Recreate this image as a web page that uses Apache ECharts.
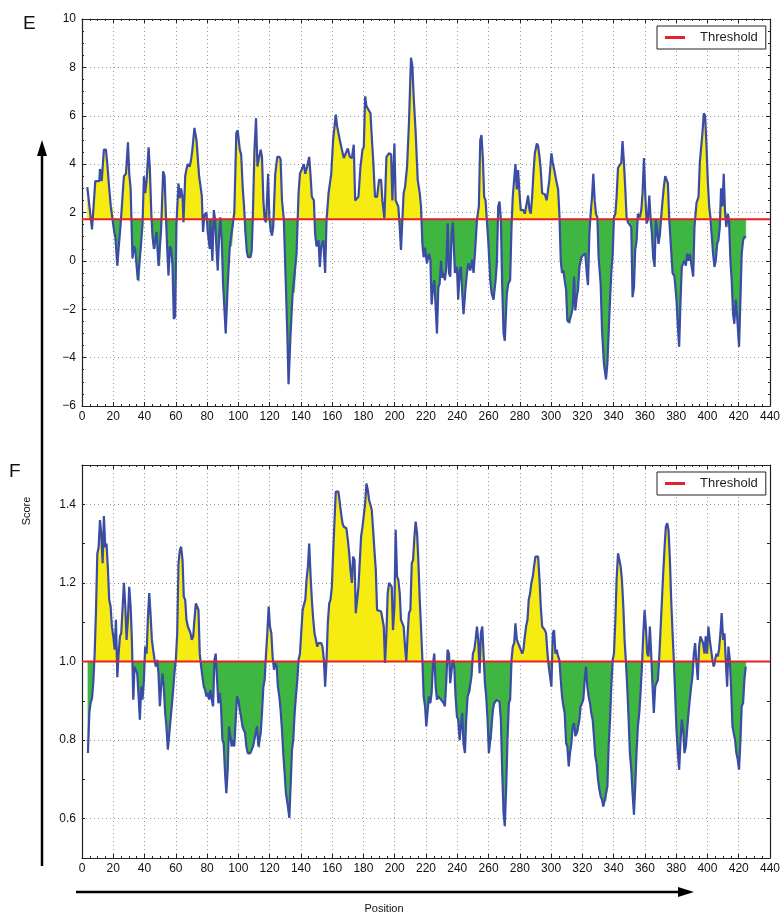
<!DOCTYPE html>
<html>
<head>
<meta charset="utf-8">
<script src="https://cdn.jsdelivr.net/npm/echarts@6/dist/echarts.min.js"></script>
<style>
html,body{margin:0;padding:0;background:#fff;}
#chart{width:783px;height:915px;}
</style>
</head>
<body>
<div id="chart"></div>
<script>
// ---------- DATA ----------
const eThreshold = 1.72;
const fThreshold = 1.0;
const xTicksMax = 440;

// Panel E: [position, score]
const ePoints = [
[3.4,3.05],[6.4,1.3],[8.5,3.3],[11.1,3.3],[11.5,3.8],[12.6,3.3],[14.0,4.6],[15.3,4.6],[16.2,4.0],[17.4,3.0],
[18.5,2.2],[19.6,2.2],[20.6,1.2],[21.3,1.0],[22.6,-0.2],[23.4,0.5],[24.7,1.5],[26.8,3.5],[28.1,3.6],[29.4,4.9],
[30.2,3.6],[31.1,3.0],[31.7,1.5],[32.3,0.1],[33.2,0.6],[34.0,0.5],[35.7,-0.8],[36.6,-0.85],[37.4,0.4],[38.7,1.5],
[39.6,3.5],[40.4,2.8],[41.3,3.3],[42.6,4.7],[43.4,3.8],[44.3,2.0],[45.1,1.0],[46.0,0.5],[46.8,0.5],[47.7,1.2],
[48.9,-0.2],[49.8,-0.2],[50.6,1.3],[51.9,3.7],[52.8,3.5],[53.6,2.0],[54.5,0.5],[55.3,-0.6],[56.2,0.6],[57.0,0.5],
[57.9,-0.2],[58.7,-2.4],[59.6,-2.3],[60.4,1.5],[61.7,3.2],[62.6,2.6],[63.4,3.0],[64.3,2.6],[64.9,1.6],[66.0,3.5],
[66.8,3.8],[67.7,4.0],[68.9,3.9],[69.8,4.2],[70.6,4.6],[71.9,5.5],[73.2,5.0],[74.0,5.0],[74.9,3.5],[76.6,2.7],
[77.4,1.2],[78.3,1.9],[79.6,2.0],[80.4,1.2],[81.7,0.5],[82.1,1.7],[83.4,0.0],[84.3,2.1],[85.1,1.7],[86.0,0.5],
[86.8,-0.4],[87.7,1.0],[88.5,1.8],[89.4,0.8],[90.2,-0.9],[91.9,-3.0],[93.2,-1.0],[94.5,0.6],[95.7,0.6],[97.4,2.0],
[98.7,5.3],[99.6,5.4],[100.9,4.6],[101.8,4.4],[102.8,3.0],[103.6,2.3],[104.5,1.2],[105.4,0.4],[106.2,0.15],[107.7,0.15],
[108.5,0.4],[109.2,1.7],[110.3,4.6],[111.3,5.9],[112.2,3.9],[113.0,4.2],[114.3,4.6],[115.1,4.3],[116.0,2.5],[116.8,1.7],
[117.7,1.6],[119.0,3.6],[119.8,1.8],[120.6,1.3],[121.5,1.05],[122.3,1.4],[123.6,3.6],[124.9,4.3],[126.2,4.3],[127.0,4.2],
[127.9,2.5],[129.1,1.7],[130.0,-0.25],[131.3,-3.0],[132.1,-5.1],[133.4,-3.0],[134.7,-1.35],[135.9,-1.3],[137.2,0.3],[138.5,2.8],
[139.4,3.6],[140.6,3.6],[141.9,4.0],[142.8,3.6],[144.0,3.9],[145.3,4.3],[146.2,3.5],[147.0,2.65],[148.3,2.5],[149.1,1.1],
[150.0,0.6],[151.3,0.85],[152.1,-0.25],[153.0,0.6],[154.3,0.85],[155.5,-0.5],[156.4,1.7],[157.7,2.8],[159.4,3.6],[160.6,5.0],
[162.3,6.05],[163.2,5.55],[164.9,5.0],[166.2,4.6],[167.4,4.25],[168.7,4.45],[170.0,4.65],[171.3,4.3],[172.6,4.25],[173.8,4.8],
[174.7,2.5],[175.5,2.5],[176.8,2.65],[178.1,3.9],[179.4,4.6],[180.2,4.7],[181.1,6.8],[181.9,6.4],[183.2,6.25],[184.5,6.1],
[185.3,5.15],[186.2,4.2],[187.4,2.65],[188.7,2.65],[190.0,3.35],[191.3,3.35],[192.1,2.5],[193.4,1.75],[194.7,4.3],[196.4,4.45],
[197.7,4.4],[198.5,2.5],[199.8,4.85],[200.6,2.5],[201.5,2.5],[202.3,2.25],[203.2,1.4],[204.0,0.45],[204.9,1.7],[205.7,2.8],
[206.6,3.05],[207.9,3.9],[209.1,5.7],[210.4,8.4],[211.3,8.05],[212.1,6.8],[213.4,5.3],[214.7,3.35],[216.0,2.8],[216.8,2.25],
[217.7,0.7],[218.5,0.15],[219.4,0.55],[220.6,-0.1],[221.9,0.3],[222.8,0.05],[223.6,-1.8],[224.5,-1.1],[225.3,-0.8],[226.2,-1.9],
[227.0,-3.0],[227.9,-1.1],[228.7,-0.95],[229.6,0.0],[230.4,-0.7],[231.3,-0.5],[232.1,-0.8],[233.0,-0.25],[233.9,1.55],[234.7,-0.5],
[235.5,-0.65],[236.4,1.1],[237.2,1.6],[238.5,-0.5],[239.8,-0.25],[240.6,-1.6],[241.5,-0.4],[242.3,-0.25],[243.2,-1.35],[244.0,-2.2],
[245.3,-1.1],[246.2,-0.5],[247.0,-0.1],[248.3,-0.4],[249.6,0.05],[250.4,-0.5],[251.3,0.3],[252.6,1.7],[253.8,2.25],[254.7,5.0],
[255.5,5.2],[256.4,4.2],[257.2,2.65],[258.1,2.5],[258.9,1.7],[259.8,0.85],[261.1,-0.8],[262.0,-1.35],[263.2,-1.6],[264.5,-0.8],
[265.3,-0.1],[266.2,2.25],[267.0,2.45],[267.9,1.7],[268.7,-0.95],[269.6,-3.0],[270.4,-3.3],[271.7,-1.35],[272.6,-0.95],[273.8,-0.8],
[274.7,1.4],[275.5,2.65],[276.4,2.65],[277.2,4.0],[278.1,2.95],[278.9,3.75],[279.8,2.8],[280.6,2.1],[281.5,2.15],[282.3,2.1],
[283.2,1.95],[284.0,1.95],[285.3,2.7],[286.2,2.1],[287.0,1.95],[287.9,2.65],[288.7,3.6],[289.6,4.45],[290.9,4.85],[291.7,4.75],
[292.6,4.3],[293.4,3.75],[294.3,2.8],[295.1,2.75],[296.0,2.75],[297.2,2.5],[298.1,2.45],[298.9,3.35],[300.2,4.45],[301.1,4.05],
[301.9,3.8],[303.2,3.35],[304.5,2.95],[305.3,1.95],[306.2,0.0],[307.0,-0.5],[307.9,-0.4],[308.7,-0.8],[309.6,-1.2],[310.4,-2.45],
[311.3,-2.55],[312.1,-2.6],[313.0,-2.2],[313.8,-1.95],[314.7,-0.65],[315.5,-2.05],[316.4,-1.5],[317.2,-1.2],[318.1,-0.25],[319.4,0.15],
[320.6,0.25],[321.9,0.3],[322.8,-0.5],[323.6,-1.0],[324.5,1.15],[325.3,1.95],[326.2,2.65],[327.0,3.6],[327.9,2.5],[328.7,1.95],
[329.6,1.8],[330.4,0.15],[331.7,-0.95],[332.6,-2.9],[333.8,-4.25],[335.1,-4.9],[336.0,-4.25],[336.8,-3.0],[337.7,-1.6],[338.5,-0.5],
[339.4,0.3],[340.2,1.8],[341.1,1.95],[341.9,2.65],[342.8,3.85],[344.0,3.85],[344.9,4.05],[345.7,4.95],[346.6,4.05],[347.4,3.05],
[348.3,1.8],[349.1,1.6],[350.0,1.65],[351.3,1.4],[352.1,-1.5],[353.0,-1.1],[353.8,0.45],[354.7,0.85],[355.5,1.95],[356.8,1.8],
[357.7,2.1],[358.5,2.8],[359.4,4.25],[360.2,2.8],[361.1,1.55],[361.9,1.7],[362.8,2.7],[363.6,1.8],[364.5,1.1],[365.3,0.15],
[366.2,-0.25],[367.0,1.7],[367.9,1.25],[368.7,0.7],[369.6,1.1],[370.4,1.8],[371.3,2.5],[372.1,3.05],[373.0,3.5],[373.8,3.5],
[374.7,3.2],[375.5,1.8],[376.4,0.85],[377.7,-0.5],[378.9,-0.65],[380.2,-1.6],[381.1,-2.75],[381.9,-3.55],[382.8,-1.6],[383.6,-0.25],
[384.5,-0.1],[385.3,0.0],[386.2,-0.2],[387.0,0.3],[387.9,0.0],[388.7,0.3],[389.6,-0.1],[390.9,-0.65],[391.7,1.4],[393.0,2.4],
[394.3,2.65],[395.1,4.05],[396.0,4.05],[396.8,5.3],[397.7,6.1],[398.5,6.0],[399.4,4.75],[400.2,3.35],[401.1,2.25],[401.9,1.8],
[402.8,1.75],[403.6,0.3],[404.5,-0.25],[405.3,0.0],[406.2,0.7],[407.0,0.85],[407.9,1.4],[408.7,3.0],[409.6,2.25],[410.4,3.6],
[411.3,1.95],[412.1,1.4],[413.0,1.95],[413.8,1.7],[414.7,0.0],[415.5,-0.8],[416.4,-2.2],[417.2,-2.6],[418.1,-1.6],[418.9,-2.2],
[420.2,-3.55],[421.1,-1.6],[421.9,0.3],[422.8,0.85],[423.6,1.0],[424.5,0.95]
];

// Panel F: [position, score]
const fPoints = [
[3.8,0.767],[4.7,0.87],[5.5,0.894],[6.4,0.907],[7.2,0.945],[8.1,1.02],[8.9,1.123],[9.8,1.275],[10.6,1.29],[11.5,1.36],
[12.3,1.326],[13.2,1.25],[14.0,1.37],[14.9,1.29],[15.7,1.3],[16.6,1.233],[17.4,1.157],[18.3,1.14],[19.1,1.09],[20.0,1.064],
[20.9,1.03],[21.7,1.106],[22.6,0.96],[23.4,1.02],[24.3,1.064],[25.1,1.072],[26.0,1.14],[26.8,1.2],[27.7,1.14],[28.5,1.055],
[29.4,1.11],[30.2,1.19],[31.1,1.14],[31.9,1.055],[32.8,0.903],[33.6,0.987],[34.5,0.983],[35.3,0.97],[36.2,0.911],[37.0,0.852],
[37.9,0.936],[38.7,0.903],[39.6,0.953],[40.4,1.038],[41.3,1.02],[42.1,1.106],[43.0,1.174],[43.8,1.123],[44.7,1.055],[45.5,1.03],
[46.4,1.004],[47.2,0.987],[48.1,1.004],[48.9,0.97],[49.8,0.886],[50.6,0.936],[51.5,0.97],[52.3,0.936],[53.2,0.869],[54.0,0.835],
[54.9,0.776],[55.7,0.81],[56.6,0.852],[57.4,0.886],[58.3,0.928],[59.1,0.97],[60.0,1.004],[60.9,1.072],[61.7,1.25],[62.6,1.284],
[63.4,1.292],[64.3,1.258],[65.1,1.165],[66.0,1.157],[66.8,1.106],[67.7,1.089],[68.5,1.085],[69.4,1.072],[70.2,1.055],[71.1,1.064],
[71.9,1.106],[72.8,1.148],[73.6,1.148],[74.5,1.131],[75.3,1.02],[76.2,0.987],[77.0,0.962],[77.9,0.936],[78.7,0.928],[79.6,0.911],
[80.4,0.92],[81.3,0.903],[82.1,0.928],[83.0,0.903],[83.8,0.886],[84.7,1.004],[85.5,1.02],[86.4,0.953],[87.2,0.894],[88.1,0.92],
[88.9,0.886],[89.8,0.8],[90.6,0.792],[91.5,0.716],[92.3,0.665],[93.2,0.725],[94.0,0.835],[94.9,0.81],[95.7,0.784],[96.6,0.8],
[97.4,0.784],[98.3,0.852],[99.1,0.911],[100.0,0.903],[100.9,0.877],[101.7,0.86],[102.6,0.835],[103.4,0.826],[104.3,0.818],[105.1,0.784],
[106.0,0.767],[106.8,0.763],[107.7,0.767],[108.5,0.775],[109.4,0.784],[110.2,0.8],[111.1,0.818],[111.9,0.835],[112.8,0.784],[113.6,0.78],
[114.3,0.818],[115.1,0.869],[116.0,0.936],[116.8,0.953],[117.7,1.02],[118.5,1.072],[119.4,1.14],[120.2,1.089],[121.1,1.072],[121.9,1.013],
[122.8,0.979],[123.6,0.996],[124.5,0.987],[125.3,0.936],[126.2,0.911],[127.0,0.877],[127.9,0.826],[128.7,0.767],[129.6,0.716],[130.4,0.665],
[131.7,0.631],[132.6,0.602],[133.4,0.682],[134.3,0.775],[135.1,0.8],[136.0,0.869],[136.8,0.911],[137.7,0.953],[138.5,1.004],[139.4,1.02],
[140.2,1.02],[141.1,1.131],[141.9,1.144],[142.8,1.157],[143.6,1.208],[144.5,1.242],[145.3,1.3],[146.2,1.216],[147.0,1.157],[147.9,1.106],
[148.7,1.072],[149.6,1.055],[150.4,1.038],[151.3,1.047],[152.1,1.05],[153.0,1.047],[153.8,1.038],[154.7,1.004],[155.5,0.936],[156.4,1.004],
[157.2,1.097],[158.1,1.148],[158.9,1.157],[159.8,1.19],[160.6,1.275],[161.5,1.36],[162.3,1.432],[163.2,1.436],[164.0,1.432],[164.9,1.403],
[165.7,1.377],[166.6,1.352],[167.4,1.343],[168.3,1.339],[169.1,1.339],[170.0,1.31],[170.9,1.275],[171.7,1.233],[172.6,1.2],[173.4,1.267],
[174.3,1.258],[175.1,1.123],[176.0,1.123],[176.8,1.19],[177.7,1.258],[178.5,1.318],[179.4,1.343],[180.2,1.343],[181.1,1.403],[181.9,1.453],
[182.8,1.436],[183.6,1.411],[184.5,1.398],[185.3,1.386],[186.2,1.335],[187.0,1.284],[187.9,1.233],[188.7,1.131],[189.6,1.127],[191.3,1.127],
[192.1,1.123],[193.0,1.089],[193.8,0.996],[194.7,1.072],[195.5,1.174],[196.4,1.2],[197.2,1.2],[198.1,1.19],[198.9,1.08],[199.8,1.14],
[200.6,1.335],[201.5,1.216],[202.3,1.208],[203.2,1.174],[204.0,1.106],[204.9,1.097],[205.7,1.089],[206.6,1.038],[207.4,1.0],[208.3,1.072],
[209.1,1.123],[210.0,1.131],[210.9,1.25],[211.7,1.258],[212.6,1.318],[213.4,1.356],[214.3,1.326],[215.1,1.258],[216.0,1.157],[216.8,1.089],
[217.7,1.004],[218.5,0.911],[219.4,0.886],[220.2,0.835],[221.1,0.877],[221.9,0.911],[222.8,0.894],[223.6,0.92],[224.5,0.996],[225.3,1.02],
[226.2,0.936],[227.0,0.903],[227.9,0.911],[229.6,0.903],[231.3,0.894],[232.1,0.886],[233.0,0.953],[233.8,1.03],[234.7,1.02],[235.5,0.945],
[236.4,0.979],[237.2,1.004],[238.1,0.987],[238.9,0.911],[239.8,0.86],[240.6,0.852],[241.5,0.8],[242.3,0.835],[243.2,0.869],[244.0,0.79],
[244.9,0.767],[245.7,0.852],[246.6,0.911],[247.4,0.92],[248.3,0.924],[249.1,0.962],[250.0,1.02],[250.9,1.03],[251.7,1.055],[252.6,1.089],
[253.4,1.055],[254.3,0.97],[255.1,1.072],[256.0,1.089],[256.8,1.02],[257.7,0.945],[258.5,0.911],[259.4,0.852],[260.2,0.767],[261.1,0.8],
[261.9,0.8],[262.8,0.877],[263.6,0.894],[264.5,0.894],[265.3,0.903],[266.2,0.907],[267.0,0.898],[267.9,0.852],[268.7,0.725],[269.6,0.614],
[270.4,0.581],[271.3,0.682],[272.1,0.8],[273.0,0.894],[273.8,0.903],[274.7,1.004],[275.5,1.038],[276.4,1.047],[277.2,1.097],[278.1,1.055],
[278.9,1.055],[279.8,1.038],[280.6,1.03],[281.5,1.02],[282.3,1.03],[283.2,1.064],[284.0,1.089],[284.9,1.106],[285.7,1.157],[286.6,1.174],
[287.4,1.2],[288.3,1.216],[289.1,1.242],[290.0,1.267],[290.9,1.27],[291.7,1.267],[292.6,1.208],[293.4,1.14],[294.3,1.089],[295.1,1.089],
[296.0,1.08],[296.8,1.072],[297.7,1.02],[298.5,0.987],[299.4,0.987],[300.2,0.936],[301.1,1.072],[301.9,1.08],[302.8,1.02],[303.6,1.03],
[304.5,1.013],[305.3,1.004],[306.2,0.953],[307.0,0.911],[307.9,0.886],[308.7,0.869],[309.6,0.792],[310.4,0.784],[311.3,0.733],[312.1,0.767],
[313.0,0.792],[313.8,0.835],[314.7,0.843],[315.5,0.81],[316.4,0.818],[317.2,0.818],[318.1,0.852],[318.9,0.886],[319.8,0.894],[320.6,0.903],
[321.5,0.953],[322.3,0.987],[323.2,0.936],[324.0,0.911],[324.9,0.894],[325.7,0.869],[326.6,0.852],[327.4,0.81],[328.3,0.758],[329.1,0.742],
[330.0,0.7],[330.9,0.674],[331.7,0.657],[332.6,0.648],[333.4,0.631],[334.3,0.648],[335.1,0.644],[336.0,0.682],[336.8,0.784],[337.7,0.852],
[338.5,0.936],[339.4,1.004],[340.2,1.02],[341.1,1.106],[341.9,1.208],[342.8,1.275],[343.6,1.275],[344.5,1.242],[345.3,1.208],[346.2,1.14],
[347.0,1.055],[347.9,0.996],[348.7,0.936],[349.6,0.852],[350.4,0.767],[351.3,0.725],[352.1,0.665],[353.0,0.61],[353.8,0.682],[354.7,0.775],
[355.5,0.835],[356.4,0.869],[357.2,0.92],[358.1,0.987],[358.9,1.064],[359.8,1.131],[360.6,1.089],[361.5,1.02],[362.3,1.013],[363.2,1.089],
[364.0,1.02],[364.9,0.936],[365.7,0.869],[366.6,0.936],[367.4,0.945],[368.3,0.953],[369.1,1.004],[370.0,1.08],[370.9,1.157],[371.7,1.225],
[372.6,1.292],[373.4,1.343],[374.3,1.352],[375.1,1.335],[376.0,1.258],[376.8,1.157],[377.7,1.072],[378.5,1.004],[379.4,0.911],[380.2,0.826],
[381.1,0.767],[381.9,0.725],[382.8,0.8],[383.6,0.852],[384.5,0.826],[385.3,0.767],[386.2,0.784],[387.0,0.826],[387.9,0.869],[388.7,0.903],
[389.6,0.936],[390.4,0.962],[391.3,1.02],[392.1,1.047],[393.0,0.996],[393.8,0.953],[394.7,1.038],[395.5,1.064],[396.4,1.055],[397.2,1.047],
[398.1,1.02],[398.9,1.064],[399.8,1.02],[400.6,1.089],[401.5,1.055],[402.3,1.03],[403.2,1.004],[404.0,0.987],[404.9,0.991],[405.7,1.02],
[406.6,1.013],[407.4,1.03],[408.3,1.072],[409.1,1.123],[410.0,1.055],[410.9,1.072],[411.7,1.004],[412.6,0.936],[413.4,1.038],[414.3,1.004],
[415.1,0.936],[416.0,0.835],[416.8,0.818],[417.7,0.8],[418.5,0.767],[419.4,0.75],[420.2,0.725],[421.1,0.8],[421.9,0.886],[422.8,0.894],
[423.6,0.953],[424.5,0.987]
];

// ---------- STYLE ----------
const FONT = '"Liberation Sans", Arial, Helvetica, sans-serif';
const YELLOW = '#f6ec12';
const GREEN = '#3fb641';
const BLUE = '#3b4ca6';
const RED = '#e6212b';
const AXIS = '#222';
const GRIDC = '#9a9a9a';

// split the profile into runs that lie entirely above or below the threshold,
// adding the exact crossing point of the data line with the threshold
function splitRuns(pts, th) {
  const runs = [];
  let cur = null;
  function side(v) { return v > th ? 1 : (v < th ? -1 : 0); }
  for (let i = 0; i < pts.length; i++) {
    const p = pts[i];
    if (i > 0) {
      const a = pts[i - 1];
      if ((a[1] - th) * (p[1] - th) < 0) {
        const t = (th - a[1]) / (p[1] - a[1]);
        const c = [a[0] + t * (p[0] - a[0]), th];
        cur.pts.push(c);
        cur = {above: p[1] > th, pts: [c]};
        runs.push(cur);
      }
    }
    if (!cur) { cur = {above: p[1] > th, pts: []}; runs.push(cur); }
    cur.pts.push(p);
  }
  return runs;
}

function fillSeries(pts, th, xi, yi) {
  const runs = splitRuns(pts, th);
  return {
    type: 'custom', xAxisIndex: xi, yAxisIndex: yi, silent: true, clip: true, z: 1,
    data: runs.map((r, i) => [r.pts[0][0], th, i]),
    encode: {x: 0, y: 1},
    renderItem: function (params, api) {
      const r = runs[api.value(2)];
      const poly = r.pts.map(p => api.coord(p));
      poly.push(api.coord([r.pts[r.pts.length - 1][0], th]));
      poly.push(api.coord([r.pts[0][0], th]));
      const col = r.above ? YELLOW : GREEN;
      return {type: 'polygon', shape: {points: poly},
              style: {fill: col, stroke: col, lineWidth: 0.6}};
    }
  };
}

function panelSeries(pts, th, xi, yi, key) {
  return [
    fillSeries(pts, th, xi, yi),
    {type: 'line', name: key + 'score', xAxisIndex: xi, yAxisIndex: yi, data: pts, symbol: 'none', silent: true,
     lineStyle: {width: 2.2, color: BLUE}, itemStyle: {color: BLUE}, z: 2},
    {type: 'line', name: 'Threshold', xAxisIndex: xi, yAxisIndex: yi, data: [[0, th], [xTicksMax, th]],
     symbol: 'none', silent: true, lineStyle: {width: 2, color: RED}, itemStyle: {color: RED}, z: 3}
  ];
}

const chart = echarts.init(document.getElementById('chart'), null, {renderer: 'canvas'});

function fmtE(v) { return v < 0 ? '\u2212' + (-v) : String(v); }
function fmtF(v) {
  const k = Math.round(v * 10);
  if (k % 2 !== 0 || k < 6 || k > 14) return '';
  return (k / 10).toFixed(1);
}

function xAxisMain(grid) {
  return {
    type: 'value', gridIndex: grid, min: 0, max: xTicksMax, interval: 20, position: 'bottom',
    axisLine: {show: true, onZero: false, lineStyle: {color: AXIS, width: 1.2}},
    axisTick: {show: true, inside: true, length: 4, lineStyle: {color: AXIS}},
    minorTick: {show: true, splitNumber: 4, length: 2, lineStyle: {color: AXIS}},
    axisLabel: {show: true, color: '#111', fontFamily: FONT, fontSize: 12, margin: 5},
    splitLine: {show: true, lineStyle: {color: GRIDC, type: [1, 3], width: 1}}
  };
}
function xAxisTop(grid) {
  return {
    type: 'value', gridIndex: grid, min: 0, max: xTicksMax, interval: 20, position: 'top',
    axisLine: {show: true, onZero: false, lineStyle: {color: AXIS, width: 1.2}},
    axisTick: {show: true, inside: true, length: 4, lineStyle: {color: AXIS}},
    minorTick: {show: true, splitNumber: 4, length: 2, lineStyle: {color: AXIS}},
    axisLabel: {show: false}, splitLine: {show: false}
  };
}
function legendAt(top) {
  return {
    data: ['Threshold'], left: 657, top: top, orient: 'horizontal',
    backgroundColor: '#fff', borderColor: '#222', borderWidth: 1, borderRadius: 0,
    padding: [5, 8, 5, 8], itemWidth: 20, itemHeight: 3, icon: 'rect',
    textStyle: {fontFamily: FONT, fontSize: 13, color: '#222', padding: [0, 0, 0, 10]},
    selectedMode: false
  };
}

const option = {
  animation: false,
  backgroundColor: '#fff',
  grid: [
    {left: 82, top: 19, width: 692, height: 387, containLabel: false},
    {left: 82, top: 465, width: 692, height: 393, containLabel: false}
  ],
  xAxis: [xAxisMain(0), xAxisTop(0), xAxisMain(1), xAxisTop(1)],
  yAxis: [
    {
      type: 'value', gridIndex: 0, min: -6, max: 10, interval: 2, position: 'left',
      axisLine: {show: true, onZero: false, lineStyle: {color: AXIS, width: 1.2}},
      axisTick: {show: true, inside: true, length: 4, lineStyle: {color: AXIS}},
      minorTick: {show: true, splitNumber: 4, length: 2, lineStyle: {color: AXIS}},
      axisLabel: {color: '#111', fontFamily: FONT, fontSize: 12, margin: 6, formatter: fmtE},
      splitLine: {show: true, lineStyle: {color: GRIDC, type: [1, 3], width: 1}}
    },
    {
      type: 'value', gridIndex: 0, min: -6, max: 10, interval: 2, position: 'right',
      axisLine: {show: true, onZero: false, lineStyle: {color: AXIS, width: 1.2}},
      axisTick: {show: true, inside: true, length: 4, lineStyle: {color: AXIS}},
      minorTick: {show: true, splitNumber: 4, length: 2, lineStyle: {color: AXIS}},
      axisLabel: {show: false}, splitLine: {show: false}
    },
    {
      type: 'value', gridIndex: 1, min: 0.5, max: 1.5, interval: 0.1, position: 'left',
      axisLine: {show: true, onZero: false, lineStyle: {color: AXIS, width: 1.2}},
      axisTick: {show: true, inside: true, length: 3, lineStyle: {color: AXIS}},
      axisLabel: {color: '#111', fontFamily: FONT, fontSize: 12, margin: 6, formatter: fmtF},
      splitLine: {show: true, lineStyle: {color: ['rgba(0,0,0,0)', GRIDC], type: [1, 3], width: 1}}
    },
    {
      type: 'value', gridIndex: 1, min: 0.5, max: 1.5, interval: 0.1, position: 'right',
      axisLine: {show: true, onZero: false, lineStyle: {color: AXIS, width: 1.2}},
      axisTick: {show: true, inside: true, length: 3, lineStyle: {color: AXIS}},
      axisLabel: {show: false}, splitLine: {show: false}
    }
  ],
  legend: [legendAt(26), legendAt(472)],
  series: [].concat(
    panelSeries(ePoints, eThreshold, 0, 0, 'E'),
    panelSeries(fPoints, fThreshold, 2, 2, 'F')
  ),
  graphic: [
    {type: 'text', left: 23, top: 14, style: {text: 'E', fontFamily: FONT, fontSize: 19, fill: '#111'}},
    {type: 'text', left: 9, top: 462, style: {text: 'F', fontFamily: FONT, fontSize: 19, fill: '#111'}},
    {type: 'text', x: 27, y: 511, rotation: Math.PI / 2,
     style: {text: 'Score', x: 0, y: 0, align: 'center', verticalAlign: 'middle', fontFamily: FONT, fontSize: 11, fill: '#111'}},
    {type: 'text', x: 384, y: 909,
     style: {text: 'Position', x: 0, y: 0, align: 'center', verticalAlign: 'middle', fontFamily: FONT, fontSize: 11, fill: '#111'}},
    {type: 'line', shape: {x1: 42, y1: 866, x2: 42, y2: 152}, style: {stroke: '#000', lineWidth: 2.5}},
    {type: 'polygon', shape: {points: [[42, 140], [37, 156], [47, 156]]}, style: {fill: '#000'}},
    {type: 'line', shape: {x1: 76, y1: 892, x2: 682, y2: 892}, style: {stroke: '#000', lineWidth: 2.5}},
    {type: 'polygon', shape: {points: [[694, 892], [678, 887], [678, 897]]}, style: {fill: '#000'}}
  ]
};
chart.setOption(option);
</script>
</body>
</html>
